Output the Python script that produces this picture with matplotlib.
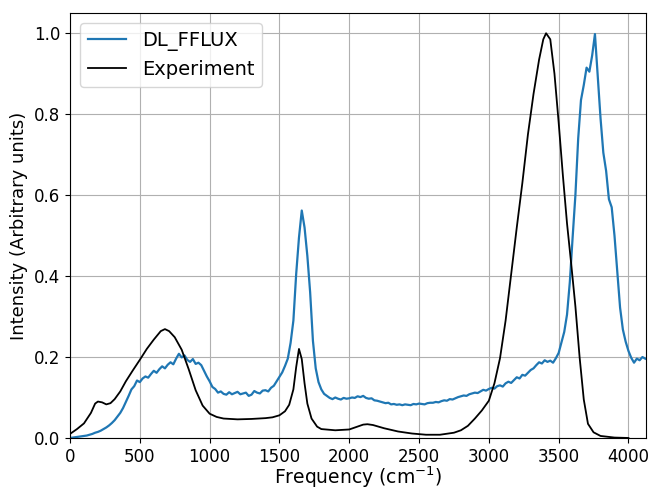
import numpy as np
import matplotlib
matplotlib.use("Agg")
import matplotlib.pyplot as plt

# DL_FFLUX spectrum, sampled every 20 cm^-1 from 0 to 4120
dl_freq = np.arange(0, 4121, 20)
dl_vals = [
    0.000, 0.001, 0.002, 0.003, 0.004, 0.005, 0.006, 0.008, 0.010, 0.013,
    0.015, 0.018, 0.022, 0.026, 0.031, 0.037, 0.044, 0.053, 0.062, 0.074,
    0.089, 0.104, 0.120, 0.128, 0.142, 0.138, 0.147, 0.152, 0.149, 0.158,
    0.166, 0.161, 0.170, 0.177, 0.172, 0.181, 0.187, 0.182, 0.196, 0.208,
    0.199, 0.204, 0.193, 0.188, 0.195, 0.183, 0.186, 0.180, 0.166, 0.152,
    0.140, 0.126, 0.121, 0.112, 0.115, 0.109, 0.107, 0.113, 0.108, 0.111,
    0.114, 0.108, 0.110, 0.112, 0.104, 0.107, 0.116, 0.112, 0.110, 0.117,
    0.118, 0.115, 0.124, 0.129, 0.140, 0.151, 0.162, 0.178, 0.196, 0.235,
    0.290, 0.405, 0.495, 0.562, 0.520, 0.450, 0.360, 0.240, 0.172, 0.138,
    0.120, 0.109, 0.104, 0.099, 0.096, 0.100, 0.097, 0.095, 0.099, 0.097,
    0.098, 0.100, 0.099, 0.103, 0.101, 0.104, 0.099, 0.097, 0.098, 0.093,
    0.092, 0.090, 0.088, 0.086, 0.087, 0.083, 0.084, 0.082, 0.083, 0.081,
    0.083, 0.082, 0.081, 0.084, 0.083, 0.085, 0.084, 0.083, 0.086, 0.087,
    0.087, 0.089, 0.088, 0.091, 0.093, 0.092, 0.096, 0.095, 0.098, 0.101,
    0.103, 0.105, 0.104, 0.108, 0.110, 0.112, 0.111, 0.115, 0.119, 0.117,
    0.121, 0.124, 0.122, 0.128, 0.130, 0.127, 0.135, 0.139, 0.136, 0.143,
    0.150, 0.147, 0.156, 0.154, 0.161, 0.168, 0.172, 0.180, 0.187, 0.184,
    0.192, 0.188, 0.191, 0.186, 0.197, 0.210, 0.236, 0.262, 0.305, 0.385,
    0.495, 0.600, 0.740, 0.835, 0.872, 0.915, 0.905, 0.945, 0.998, 0.895,
    0.790, 0.705, 0.660, 0.590, 0.570, 0.500, 0.410, 0.322, 0.268, 0.238,
    0.215, 0.198, 0.186, 0.196, 0.192, 0.200, 0.196,
]

# Experimental spectrum
exp_freq = [
    0, 50, 100, 150, 180, 200, 230, 260, 290, 320, 360, 400, 450, 500, 550,
    600, 650, 680, 710, 750, 800, 850, 900, 950, 1000, 1050, 1100, 1200, 1300,
    1400, 1450, 1500, 1540, 1570, 1600, 1620, 1640, 1660, 1680, 1700, 1730,
    1770, 1800, 1900, 2000, 2050, 2100, 2130, 2170, 2250, 2350, 2450, 2550,
    2650, 2750, 2800, 2850, 2900, 2950, 3000, 3040, 3080, 3120, 3160, 3200,
    3240, 3280, 3320, 3360, 3390, 3410, 3440, 3470, 3500, 3530, 3560, 3590,
    3620, 3650, 3680, 3710, 3750, 3800, 3900, 4000,
]
exp_vals = [
    0.010, 0.022, 0.036, 0.062, 0.085, 0.090, 0.088, 0.083, 0.086, 0.096,
    0.115, 0.140, 0.167, 0.193, 0.220, 0.243, 0.264, 0.269, 0.264, 0.249,
    0.218, 0.170, 0.118, 0.080, 0.060, 0.052, 0.048, 0.046, 0.047, 0.049,
    0.051, 0.056, 0.066, 0.082, 0.120, 0.175, 0.220, 0.195, 0.135, 0.085,
    0.048, 0.028, 0.022, 0.019, 0.021, 0.027, 0.033, 0.034, 0.032, 0.024,
    0.016, 0.011, 0.008, 0.008, 0.013, 0.019, 0.030, 0.048, 0.068, 0.092,
    0.135, 0.197, 0.290, 0.405, 0.520, 0.630, 0.750, 0.850, 0.935, 0.985,
    1.000, 0.985, 0.900, 0.780, 0.650, 0.530, 0.430, 0.325, 0.200, 0.095,
    0.035, 0.014, 0.005, 0.001, 0.000,
]

x_ticks = [0, 500, 1000, 1500, 2000, 2500, 3000, 3500, 4000]
y_ticks = [0.0, 0.2, 0.4, 0.6, 0.8, 1.0]

fig = plt.figure(figsize=(6.5, 4.91), dpi=100)
ax = fig.add_axes([0.1077, 0.1080, 0.886, 0.8655])

ax.plot(dl_freq, dl_vals, color="#1f77b4", lw=1.6, label="DL_FFLUX")
ax.plot(exp_freq, exp_vals, color="black", lw=1.3, label="Experiment")

ax.set_xlim(0, 4125)
ax.set_ylim(0, 1.05)
ax.set_xticks(x_ticks)
ax.set_yticks(y_ticks)
ax.tick_params(labelsize=12)
ax.grid(True, color="#b0b0b0", lw=0.8)
ax.set_xlabel("Frequency (cm$^{-1}$)", fontsize=13.5, labelpad=-0.5)
ax.set_ylabel("Intensity (Arbitrary units)", fontsize=13)
ax.legend(loc="upper left", fontsize=14)

fig.savefig("out.png", dpi=100)
